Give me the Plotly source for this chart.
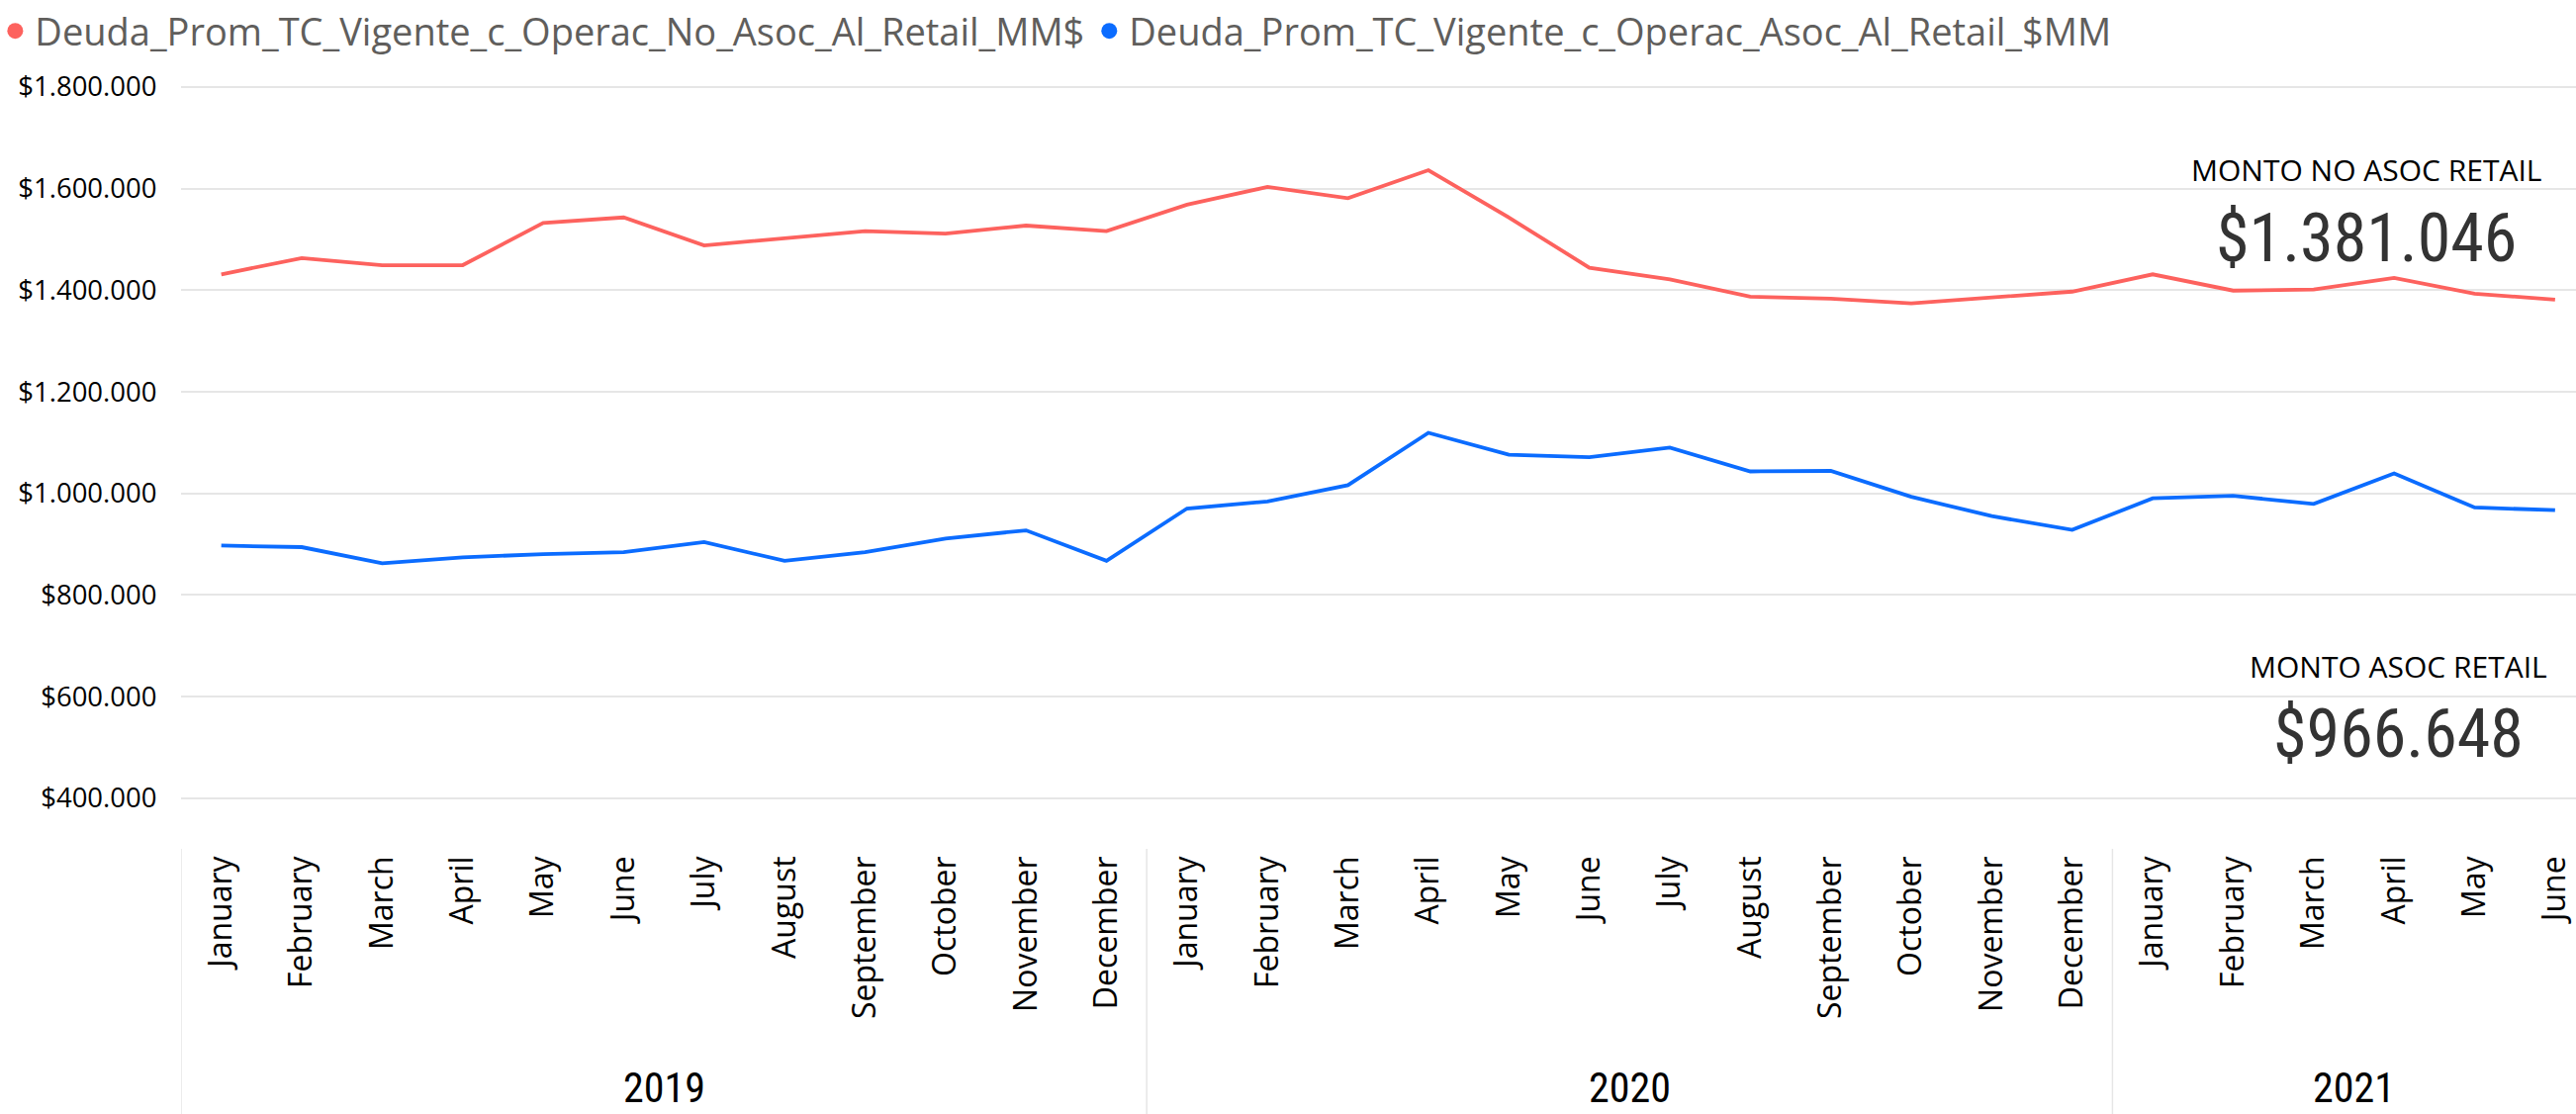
import plotly.graph_objects as go

# ---------------- data ----------------
month_labels = [
    "January", "February", "March", "April", "May", "June", "July", "August",
    "September", "October", "November", "December",
    "January", "February", "March", "April", "May", "June", "July", "August",
    "September", "October", "November", "December",
    "January", "February", "March", "April", "May", "June",
]
years = ["2019", "2020", "2021"]
months_per_year = [12, 12, 6]

no_asoc_retail = [
    1431000, 1463000, 1449000, 1449000, 1532000, 1543000, 1488000, 1502000,
    1516000, 1511000, 1527000, 1516000,
    1568000, 1603000, 1581000, 1636000, 1543000, 1444000, 1421000, 1387000,
    1383000, 1374000, 1386000, 1397000,
    1431000, 1399000, 1401000, 1424000, 1393000, 1381046,
]
asoc_retail = [
    897000, 894000, 862000, 874000, 880000, 884000, 904000, 867000,
    884000, 911000, 927000, 867000,
    970000, 984000, 1016000, 1119000, 1076000, 1071000, 1090000, 1043000,
    1044000, 993000, 955000, 928000,
    990000, 995000, 979000, 1039000, 972000, 966648,
]
series_names = [
    "Deuda_Prom_TC_Vigente_c_Operac_No_Asoc_Al_Retail_MM$",
    "Deuda_Prom_TC_Vigente_c_Operac_Asoc_Al_Retail_$MM",
]
card_titles = ["MONTO NO ASOC RETAIL", "MONTO ASOC RETAIL"]
y_ticks = [400000, 600000, 800000, 1000000, 1200000, 1400000, 1600000, 1800000]

# ---------------- styling ----------------
RED = "#FD625E"
BLUE = "#0B6CFF"
GRID = "#E6E6E6"
BASE_FONT = "Segoe UI, Open Sans, sans-serif"
NARROW_FONT = "Liberation Sans Narrow, DIN, Roboto Condensed, Roboto, sans-serif"


def money(v):
    return "$" + f"{int(round(v)):,}".replace(",", ".")


x_idx = list(range(len(month_labels)))

fig = go.Figure()
for name, vals, col in [(series_names[0], no_asoc_retail, RED),
                        (series_names[1], asoc_retail, BLUE)]:
    fig.add_trace(go.Scatter(
        x=x_idx, y=vals, mode="lines", name=name, showlegend=False,
        line=dict(color=col, width=3.8), hoverinfo="skip",
    ))
    # legend entry with round dot
    fig.add_trace(go.Scatter(
        x=[None], y=[None], mode="markers", name=name, showlegend=True,
        marker=dict(color=col, size=16, symbol="circle"),
    ))

# year separators & labels
shapes = []
annotations = []
start = 0
for yr, n in zip(years, months_per_year):
    shapes.append(dict(type="line", xref="x", yref="paper",
                       x0=start - 0.5, x1=start - 0.5, y0=0, y1=-0.36,
                       line=dict(color=GRID, width=1.5)))
    annotations.append(dict(xref="x", yref="paper", x=start + (n - 1) / 2,
                            y=-0.308, text=yr, showarrow=False,
                            xanchor="center", yanchor="middle",
                            font=dict(family=NARROW_FONT, size=42, color="#000000")))
    start += n

# cards (last values)
cards = [
    (card_titles[0], no_asoc_retail[-1], 0.9124, 0.877, 0.788),
    (card_titles[1], asoc_retail[-1], 0.926, 0.235, 0.148),
]
for title, val, cx, ty, vy in cards:
    annotations.append(dict(xref="paper", yref="paper", x=cx, y=ty, text=title,
                            showarrow=False, xanchor="center", yanchor="middle",
                            font=dict(family=BASE_FONT, size=30, color="#000000")))
    annotations.append(dict(xref="paper", yref="paper", x=cx, y=vy, text=money(val),
                            showarrow=False, xanchor="center", yanchor="middle",
                            font=dict(family=NARROW_FONT, size=68, color="#333333")))

fig.update_layout(
    width=2604, height=1126,
    margin=dict(l=183, r=0, t=75, b=268, pad=0, autoexpand=False),
    paper_bgcolor="white", plot_bgcolor="white",
    font=dict(family=BASE_FONT, color="#000000"),
    showlegend=True,
    legend=dict(orientation="h", x=-0.0775, y=1.0958, xanchor="left", yanchor="top",
                font=dict(family=BASE_FONT, size=38, color="#605E5C"),
                itemwidth=30, bgcolor="rgba(0,0,0,0)", tracegroupgap=0),
    xaxis=dict(range=[-0.5, 29.26], tickmode="array", tickvals=x_idx,
               ticktext=month_labels, tickangle=-90, showgrid=False,
               zeroline=False, showline=False, ticks="", automargin=False,
               tickfont=dict(family=BASE_FONT, size=32, color="#000000")),
    yaxis=dict(range=[300000, 1825000], tickmode="array", tickvals=y_ticks,
               ticktext=[money(v) for v in y_ticks], showgrid=True,
               gridcolor=GRID, gridwidth=1.5, zeroline=False, showline=False,
               ticks="outside", ticklen=18, tickcolor="rgba(0,0,0,0)",
               automargin=False,
               tickfont=dict(family=BASE_FONT, size=27.5, color="#000000")),
    shapes=shapes,
    annotations=annotations,
)

fig.write_html("out.html", config={"displayModeBar": False},
               post_script="document.body.style.margin='0';document.body.style.overflow='hidden';")
